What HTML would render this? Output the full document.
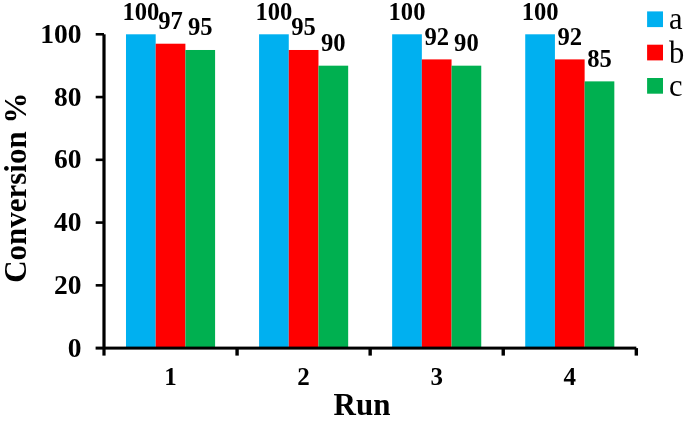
<!DOCTYPE html>
<html><head><meta charset="utf-8"><style>
html,body{margin:0;padding:0;background:#fff;}
body{width:685px;height:425px;overflow:hidden;}
svg{display:block;will-change:transform;}
.b{font-family:"Liberation Serif",serif;font-weight:bold;fill:#000;}
.r{font-family:"Liberation Serif",serif;font-weight:normal;fill:#000;}
</style></head><body>
<svg width="685" height="425" viewBox="0 0 685 425">
<rect x="125.99" y="34.30" width="29.70" height="313.80" fill="#00B0F0"/>
<rect x="155.69" y="43.71" width="29.70" height="304.39" fill="#FF0000"/>
<rect x="185.39" y="49.99" width="29.70" height="298.11" fill="#00B050"/>
<rect x="259.07" y="34.30" width="29.70" height="313.80" fill="#00B0F0"/>
<rect x="288.77" y="49.99" width="29.70" height="298.11" fill="#FF0000"/>
<rect x="318.47" y="65.68" width="29.70" height="282.42" fill="#00B050"/>
<rect x="392.15" y="34.30" width="29.70" height="313.80" fill="#00B0F0"/>
<rect x="421.85" y="59.40" width="29.70" height="288.70" fill="#FF0000"/>
<rect x="451.55" y="65.68" width="29.70" height="282.42" fill="#00B050"/>
<rect x="525.23" y="34.30" width="29.70" height="313.80" fill="#00B0F0"/>
<rect x="554.93" y="59.40" width="29.70" height="288.70" fill="#FF0000"/>
<rect x="584.63" y="81.37" width="29.70" height="266.73" fill="#00B050"/>
<text x="140.84" y="19.70" text-anchor="middle" class="b" font-size="24.6">100</text>
<text x="170.54" y="29.11" text-anchor="middle" class="b" font-size="24.6">97</text>
<text x="200.24" y="35.39" text-anchor="middle" class="b" font-size="24.6">95</text>
<text x="273.92" y="19.70" text-anchor="middle" class="b" font-size="24.6">100</text>
<text x="303.62" y="35.39" text-anchor="middle" class="b" font-size="24.6">95</text>
<text x="333.32" y="51.08" text-anchor="middle" class="b" font-size="24.6">90</text>
<text x="407.00" y="19.70" text-anchor="middle" class="b" font-size="24.6">100</text>
<text x="436.70" y="44.80" text-anchor="middle" class="b" font-size="24.6">92</text>
<text x="466.40" y="51.08" text-anchor="middle" class="b" font-size="24.6">90</text>
<text x="540.08" y="19.70" text-anchor="middle" class="b" font-size="24.6">100</text>
<text x="569.78" y="44.80" text-anchor="middle" class="b" font-size="24.6">92</text>
<text x="599.48" y="66.77" text-anchor="middle" class="b" font-size="24.6">85</text>
<rect x="102.4" y="34.30" width="3.2" height="321.30" fill="#000"/>
<rect x="95.6" y="346.6" width="540.72" height="3" fill="#000"/>
<rect x="95.7" y="284.04" width="8.3" height="2.6" fill="#000"/>
<rect x="95.7" y="221.28" width="8.3" height="2.6" fill="#000"/>
<rect x="95.7" y="158.52" width="8.3" height="2.6" fill="#000"/>
<rect x="95.7" y="95.76" width="8.3" height="2.6" fill="#000"/>
<rect x="95.7" y="33.00" width="8.3" height="2.6" fill="#000"/>
<rect x="235.38" y="348.10" width="3.4" height="7.50" fill="#000"/>
<rect x="368.46" y="348.10" width="3.4" height="7.50" fill="#000"/>
<rect x="501.54" y="348.10" width="3.4" height="7.50" fill="#000"/>
<rect x="634.62" y="348.10" width="3.4" height="7.50" fill="#000"/>
<text x="81.4" y="356.60" text-anchor="end" class="b" font-size="27.5">0</text>
<text x="81.4" y="293.84" text-anchor="end" class="b" font-size="27.5">20</text>
<text x="81.4" y="231.08" text-anchor="end" class="b" font-size="27.5">40</text>
<text x="81.4" y="168.32" text-anchor="end" class="b" font-size="27.5">60</text>
<text x="81.4" y="105.56" text-anchor="end" class="b" font-size="27.5">80</text>
<text x="81.4" y="42.80" text-anchor="end" class="b" font-size="27.5">100</text>
<text x="170.54" y="384.8" text-anchor="middle" class="b" font-size="25">1</text>
<text x="303.62" y="384.8" text-anchor="middle" class="b" font-size="25">2</text>
<text x="436.70" y="384.8" text-anchor="middle" class="b" font-size="25">3</text>
<text x="569.78" y="384.8" text-anchor="middle" class="b" font-size="25">4</text>
<text x="362" y="414.7" text-anchor="middle" class="b" font-size="31">Run</text>
<text transform="translate(26.4,187.7) rotate(-90)" x="0" y="0" text-anchor="middle" class="b" font-size="31">Conversion %</text>
<rect x="647.1" y="11.40" width="15.9" height="15.7" fill="#00B0F0"/>
<text x="669" y="29.40" class="r" font-size="30.5">a</text>
<rect x="647.1" y="44.70" width="15.9" height="15.7" fill="#FF0000"/>
<text x="669" y="62.70" class="r" font-size="30.5">b</text>
<rect x="647.1" y="78.00" width="15.9" height="15.7" fill="#00B050"/>
<text x="669" y="96.00" class="r" font-size="30.5">c</text>
</svg>
</body></html>
